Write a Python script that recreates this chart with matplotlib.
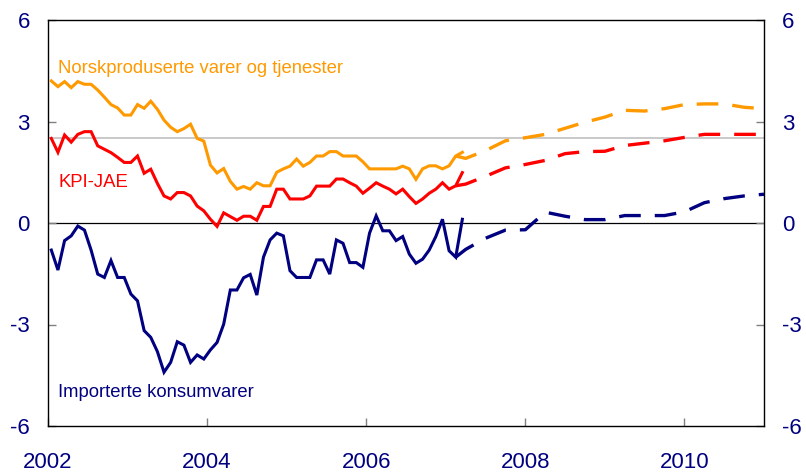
import numpy as np
import matplotlib.pyplot as plt

plt.rcParams['font.family'] = ['Liberation Sans', 'DejaVu Sans']

# monthly observations, Jan 2002 - Mar 2007 (plotted mid-month)
start_year = 2002
norsk = [4.2, 4.03, 4.18, 4.0, 4.18, 4.1, 4.1, 3.93, 3.72, 3.5, 3.4, 3.19,
         3.19, 3.5, 3.39, 3.6, 3.36, 3.04, 2.83, 2.7, 2.79, 2.92, 2.5, 2.42,
         1.71, 1.48, 1.61, 1.23, 1.0, 1.08, 1.0, 1.19, 1.1, 1.1, 1.5, 1.6,
         1.68, 1.89, 1.68, 1.79, 1.98, 1.98, 2.11, 2.11, 1.98, 1.98, 1.98, 1.81,
         1.6, 1.6, 1.6, 1.6, 1.6, 1.68, 1.6, 1.29, 1.6, 1.69, 1.69, 1.6,
         1.69, 1.98, 2.09]
kpi_jae = [2.5, 2.09, 2.6, 2.39, 2.62, 2.7, 2.7, 2.28, 2.18, 2.08, 1.94, 1.79,
           1.79, 1.98, 1.47, 1.59, 1.17, 0.8, 0.71, 0.9, 0.9, 0.8, 0.5, 0.36,
           0.11, -0.1, 0.3, 0.19, 0.08, 0.2, 0.2, 0.08, 0.49, 0.49, 1.0, 1.0,
           0.71, 0.71, 0.71, 0.8, 1.09, 1.09, 1.09, 1.3, 1.3, 1.19, 1.09, 0.88,
           1.03, 1.19, 1.09, 1.0, 0.86, 1.0, 0.78, 0.58, 0.71, 0.88, 1.0, 1.19,
           1.0, 1.1, 1.49]
importert = [-0.8, -1.39, -0.52, -0.38, -0.09, -0.21, -0.8, -1.51, -1.61, -1.11, -1.61, -1.61,
             -2.1, -2.3, -3.18, -3.38, -3.8, -4.41, -4.12, -3.51, -3.61, -4.12, -3.9, -4.02,
             -3.75, -3.53, -2.99, -1.98, -1.98, -1.62, -1.52, -2.13, -1.01, -0.5, -0.3, -0.38,
             -1.41, -1.61, -1.61, -1.61, -1.09, -1.09, -1.51, -0.5, -0.6, -1.17, -1.17, -1.31,
             -0.3, 0.21, -0.23, -0.23, -0.52, -0.4, -0.92, -1.19, -1.07, -0.8, -0.4, 0.11,
             -0.82, -1.01, 0.11]

# projections (from Feb 2007, then quarterly)
proj_t = [2007.125, 2007.25, 2007.5, 2007.75, 2008.0, 2008.25, 2008.5, 2008.75,
          2009.0, 2009.25, 2009.5, 2009.75, 2010.0, 2010.25, 2010.5, 2010.75, 2011.0]
norsk_proj = [1.98, 1.91, 2.14, 2.43, 2.52, 2.62, 2.8, 2.98, 3.13, 3.33, 3.31,
              3.38, 3.5, 3.52, 3.52, 3.42, 3.38]
kpi_jae_proj = [1.1, 1.15, 1.38, 1.63, 1.73, 1.85, 2.05, 2.11, 2.12, 2.29, 2.36,
                2.43, 2.53, 2.62, 2.62, 2.62, 2.62]
importert_proj = [-1.01, -0.78, -0.45, -0.21, -0.2, 0.32, 0.2, 0.1, 0.1, 0.22, 0.22,
                  0.22, 0.33, 0.6, 0.72, 0.8, 0.85]

inflation_target = 2.5

orange = '#FF9900'
red = '#FF0000'
navy = '#000080'

t = start_year + (np.arange(len(norsk)) + 0.5) / 12

fig = plt.figure(figsize=(8.06, 4.74), dpi=100)
ax = fig.add_axes([48 / 806, 48 / 474, 716 / 806, 406 / 474])

ax.axhline(inflation_target, color='#c0c0c0', lw=1.2, zorder=1)
ax.axhline(0, color='black', lw=0.9, zorder=1)

dash = (0, (6.5, 4.2))
for obs, proj, col in [(norsk, norsk_proj, orange),
                       (kpi_jae, kpi_jae_proj, red),
                       (importert, importert_proj, navy)]:
    ax.plot(t, obs, color=col, lw=2.2, zorder=3, solid_joinstyle='miter')
    ax.plot(proj_t, proj, color=col, lw=2.4, ls=dash, zorder=3)

ax.text(2002.13, 4.58, 'Norskproduserte varer og tjenester', color=orange,
        fontsize=13.3, va='center')
ax.text(2002.13, 1.21, 'KPI-JAE', color=red, fontsize=13.3, va='center')
ax.text(2002.13, -5.0, 'Importerte konsumvarer', color=navy, fontsize=13.3,
        va='center')

ax.set_xlim(2002, 2011)
ax.set_ylim(-6, 6)
ax.set_xticks([2002, 2004, 2006, 2008, 2010])
ax.set_yticks([-6, -3, 0, 3, 6])
ax.set_yticklabels(['-6', '-3', '0', '3', '6'])

ax.tick_params(axis='both', direction='in', colors='#808080', length=6,
               width=1, labelsize=16, labelcolor=navy)
ax.tick_params(axis='y', right=True, labelright=True, pad=13)
ax.tick_params(axis='x', pad=19)

for s in ax.spines.values():
    s.set_color('black')
    s.set_linewidth(1.0)

fig.savefig('out.png', dpi=100)
